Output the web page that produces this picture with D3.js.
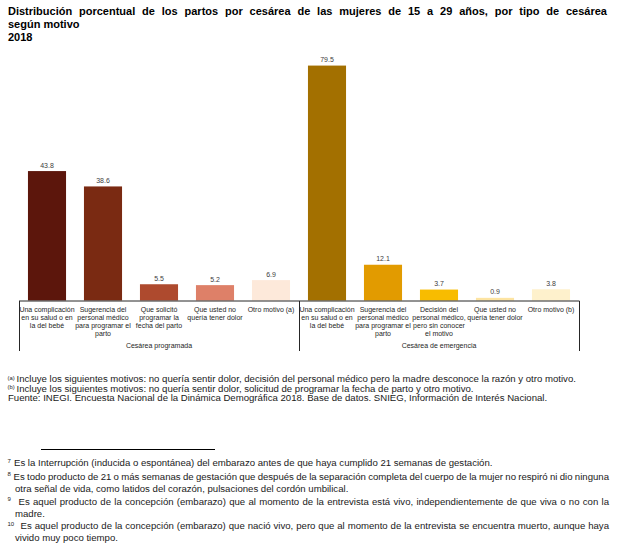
<!DOCTYPE html>
<html><head><meta charset="utf-8">
<script src="https://cdn.jsdelivr.net/npm/d3@7"></script>
<style>
html,body{margin:0;padding:0;background:#fff;}
svg{display:block;font-family:"Liberation Sans",Arial,sans-serif;}
</style></head>
<body>
<svg id="chart" width="625" height="547"></svg>
<script>
// ---- data ----
const titleLines = ["Distribución porcentual de los partos por cesárea de las mujeres de 15 a 29 años, por tipo de cesárea", "según motivo", "2018"];
const groups = ["Cesárea programada", "Cesárea de emergencia"];
const categories = [
  ["Una complicación","en su salud o en","la del bebé"],
  ["Sugerencia del","personal médico","para programar el","parto"],
  ["Que solicitó","programar la","fecha del parto"],
  ["Que usted no","quería tener dolor"],
  ["Otro motivo (a)"],
  ["Una complicación","en su salud o en","la del bebé"],
  ["Sugerencia del","personal médico","para programar el","parto"],
  ["Decisión del","personal médico,","pero sin conocer","el motivo"],
  ["Que usted no","quería tener dolor"],
  ["Otro motivo (b)"]
];
const categoryGroup = [0,0,0,0,0,1,1,1,1,1];
const values = [43.8, 38.6, 5.5, 5.2, 6.9, 79.5, 12.1, 3.7, 0.9, 3.8];
const barColors = ["#5c160c","#7a2a12","#ae4a2e","#de8068","#fde9da","#a37000","#e29b00","#f8bc00","#fde4a2","#fef1cc"];
const notesAB = [
  ["(a)", "Incluye los siguientes motivos: no quería sentir dolor, decisión del personal médico pero la madre desconoce la razón y otro motivo."],
  ["(b)", "Incluye los siguientes motivos: no quería sentir dolor, solicitud de programar la fecha de parto y otro motivo."]
];
const sourceText = "Fuente: INEGI. Encuesta Nacional de la Dinámica Demográfica 2018. Base de datos. SNIEG, Información de Interés Nacional.";
const footnotes = [
  ["7", ["Es la Interrupción (inducida o espontánea) del embarazo antes de que haya cumplido 21 semanas de gestación."], false],
  ["8", ["Es todo producto de 21 o más semanas de gestación que después de la separación completa del cuerpo de la mujer no respiró ni dio ninguna", "otra señal de vida, como latidos del corazón, pulsaciones del cordón umbilical."], true],
  ["9", ["Es aquel producto de la concepción (embarazo) que al momento de la entrevista está vivo, independientemente de que viva o no con la", "madre."], true],
  ["10", ["Es aquel producto de la concepción (embarazo) que nació vivo, pero que al momento de la entrevista se encuentra muerto, aunque haya", "vivido muy poco tiempo."], true]
];

// ---- drawing ----
const svg = d3.select("#chart");

function justify(sel, str, x0, x1) {
  const words = str.split(" ");
  const tmp = sel.append("tspan");
  const widths = words.map(w => { tmp.text(w); return tmp.node().getComputedTextLength(); });
  tmp.remove();
  const total = d3.sum(widths);
  const gap = (x1 - x0 - total) / (words.length - 1);
  let x = x0;
  words.forEach((w, i) => {
    sel.append("tspan").attr("x", x).text(w);
    x += widths[i] + gap;
  });
}

// title
const tTitle = svg.append("g").attr("font-weight","bold").attr("font-size",11).attr("fill","#000");
justify(tTitle.append("text").attr("y",14.5), titleLines[0], 8, 607);
tTitle.append("text").attr("x",8).attr("y",27.5).text(titleLines[1]);
tTitle.append("text").attr("x",8).attr("y",40.5).text(titleLines[2]);

// scales
const x = d3.scaleBand().domain(d3.range(values.length)).range([19, 579]).paddingInner(0.32).paddingOuter(0.16);
const y = d3.scaleLinear().domain([0, 100]).range([300.5, 5]);

// bars
svg.append("g").selectAll("rect").data(values).join("rect")
  .attr("x", (d,i) => x(i)).attr("width", x.bandwidth())
  .attr("y", d => y(d)).attr("height", d => y(0) - y(d))
  .attr("fill", (d,i) => barColors[i]);

// value labels
svg.append("g").attr("font-size",7).attr("fill","#404040").attr("text-anchor","middle")
  .selectAll("text").data(values).join("text")
  .attr("x", (d,i) => x(i) + x.bandwidth()/2)
  .attr("y", d => y(d) - 3.5)
  .text(d => d.toFixed(1));

// axis
const ax = svg.append("g").attr("stroke","#262626").attr("stroke-width",1);
ax.append("line").attr("x1",19).attr("x2",579.5).attr("y1",301).attr("y2",301);
const groupEdges = [x.range()[0], (x.range()[0]+x.range()[1])/2, x.range()[1]];
groupEdges.forEach(g => ax.append("line").attr("x1",Math.round(g)+0.5).attr("x2",Math.round(g)+0.5).attr("y1",301).attr("y2",351));

// category labels
const cl = svg.append("g").attr("font-size",7).attr("fill","#262626").attr("text-anchor","middle");
categories.forEach((lines, i) => {
  const t = cl.append("text");
  lines.forEach((ln, j) => t.append("tspan").attr("x", x(i) + x.bandwidth()/2).attr("y", 312 + j*8).text(ln));
});
groups.forEach((g, gi) => {
  cl.append("text").attr("x", (groupEdges[gi] + groupEdges[gi+1]) / 2).attr("y", 347.5).text(g);
});

// notes a, b, source
const nt = svg.append("g").attr("font-size",9.6).attr("fill","#1a1a1a");
notesAB.forEach((n, i) => {
  const yy = 382 + i*9.5;
  nt.append("text").attr("x",7.5).attr("y",yy-2.5).attr("font-size",5.8).text(n[0]);
  nt.append("text").attr("x",16.5).attr("y",yy).text(n[1]);
});
nt.append("text").attr("x",8).attr("y",401).text(sourceText);

// footnote rule
svg.append("line").attr("x1",41).attr("x2",215).attr("y1",449.5).attr("y2",449.5).attr("stroke","#000").attr("stroke-width",1);

// footnotes
const fn = svg.append("g").attr("font-size",9.6).attr("fill","#1a1a1a");
const fnY = [[466],[479.5,491.5],[504.5,516.5],[529,541]];
const fnX = [14, 13.5, 18.5, 20.5];
footnotes.forEach((f, i) => {
  fn.append("text").attr("x",7.5).attr("y",fnY[i][0]-3.5).attr("font-size",6).text(f[0]);
  f[1].forEach((ln, j) => {
    const t = fn.append("text").attr("y", fnY[i][j]);
    if (j === 0 && f[2]) justify(t, ln, fnX[i], 609);
    else t.attr("x", j === 0 ? fnX[i] : 15).text(ln);
  });
});
</script>
</body></html>
